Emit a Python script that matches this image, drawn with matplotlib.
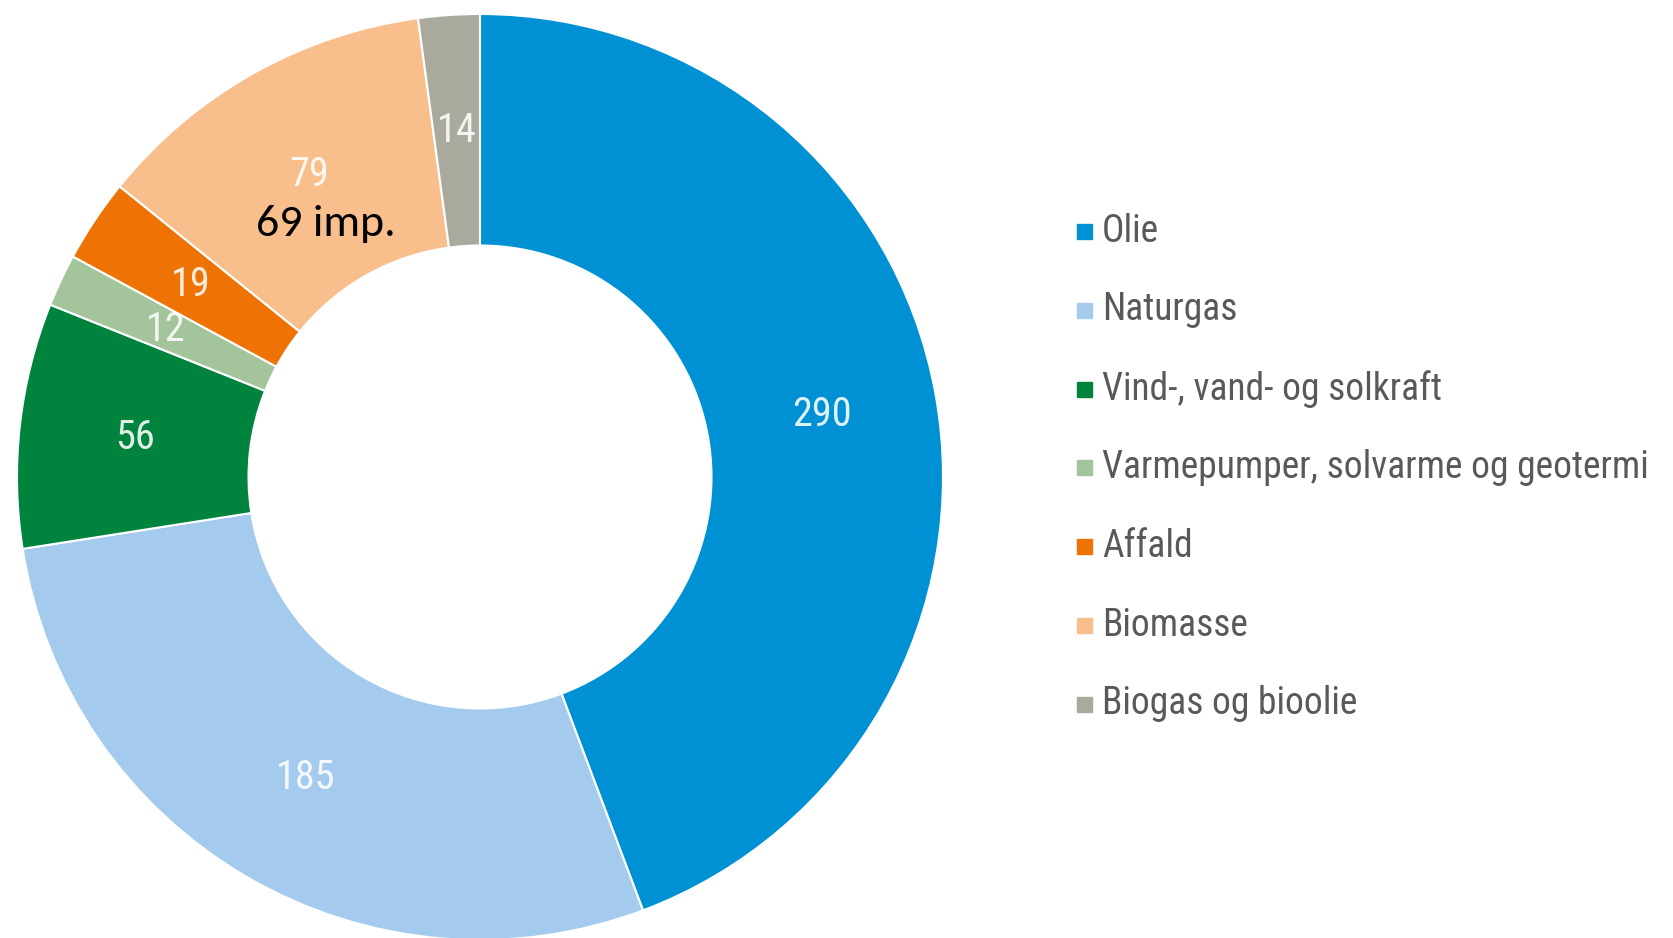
import matplotlib
matplotlib.use("Agg")
import matplotlib.pyplot as plt
from matplotlib.patches import Rectangle

# Energiforbrug fordelt på kilder
kilder = ["Olie", "Naturgas", "Vind-, vand- og solkraft",
          "Varmepumper, solvarme og geotermi", "Affald", "Biomasse",
          "Biogas og bioolie"]
vaerdier = [290, 185, 56, 12, 19, 79, 14]
farver = ["#0091D5", "#A4CBEE", "#00843D", "#A4C59B", "#EE7304",
          "#F8BE8B", "#A9A99D"]
note = "69 imp."

W, H = 1673, 938
fig = plt.figure(figsize=(W / 100, H / 100), dpi=100)

# donut: centre (480, 477) px, ydre radius 463 px
cx, cy, r = 480, 477, 463
ax = fig.add_axes([(cx - r) / W, (H - cy - r) / H, 2 * r / W, 2 * r / H])
narrow = ["Roboto Condensed", "DejaVu Sans"]
wedges, texts = ax.pie(vaerdier, colors=farver, startangle=90, counterclock=False,
                       radius=1, labels=[str(v) for v in vaerdier], labeldistance=0.75,
                       wedgeprops=dict(width=0.5, edgecolor="white", linewidth=1.5),
                       textprops=dict(color="white", alpha=0.88, fontsize=29,
                                      family=narrow, va="center"))
for t in texts:
    t.set_horizontalalignment("center")
ax.set_xlim(-1, 1)
ax.set_ylim(-1, 1)
ax.set_aspect("equal")
ax.axis("off")

fig.text(326 / W, 1 - 224 / H, note, fontsize=33, family=["Carlito", "Lato", "DejaVu Sans"],
         color="black", ha="center", va="center")

# forklaring
y0, step = 231, 78.8
for i, (navn, f) in enumerate(zip(kilder, farver)):
    y = 1 - (y0 + i * step) / H
    fig.patches.append(Rectangle((1077 / W, y - 8 / H), 15 / W, 15 / H,
                                 transform=fig.transFigure, color=f))
    fig.text(1102 / W, y, navn, fontsize=27, family=narrow, color="#595959",
             ha="left", va="center")

fig.savefig("out.png", dpi=100)
